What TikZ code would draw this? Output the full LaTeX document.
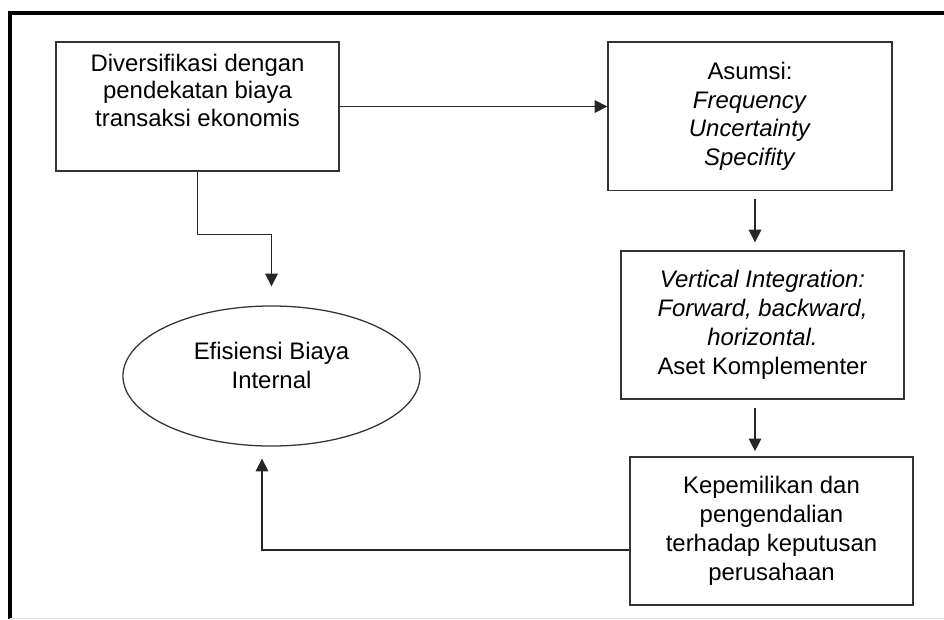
\documentclass[tikz,border=0pt]{standalone}
\usepackage{fontspec}
\setmainfont{Liberation Sans}
\usetikzlibrary{shapes.geometric, arrows.meta, calc}
\begin{document}
\begin{tikzpicture}[x=0.025cm, y=-0.025cm, line width=0.9pt,
    font=\fontsize{17}{20.5}\selectfont,
    kotak/.style={draw=black!80, rectangle, align=center, inner sep=0pt},
    panah/.style={-{Triangle[length=9pt, width=9pt]}, draw=black!85}]
  \useasboundingbox (0,0) rectangle (944,619);
  \draw[line width=2.2pt] (944,13) -- (10,13) -- (10,619);
  \draw[gray!20, line width=0.6pt] (10,618) -- (944,618);

  \node[kotak, minimum width=7.075cm, minimum height=3.225cm,
        font=\fontsize{17}{19.6}\selectfont, text depth=0.825cm]
    (div) at (197.5,106.5) {Diversifikasi dengan\\ pendekatan biaya\\ transaksi ekonomis};
  \node[kotak, minimum width=7.1cm, minimum height=3.72cm]
    (as) at (750,116.3) {Asumsi:\\ \textit{Frequency}\\ \textit{Uncertainty}\\ \textit{Specifity}};
  \node[kotak, minimum width=7.075cm, minimum height=3.7cm]
    (vi) at (762.5,325) {\textit{Vertical Integration:}\\ \textit{Forward, backward,}\\ \textit{horizontal.}\\ Aset Komplementer};
  \node[kotak, minimum width=7.075cm, minimum height=3.7cm]
    (kp) at (771.5,531) {Kepemilikan dan\\ pengendalian\\ terhadap keputusan\\ perusahaan};
  \node[draw=black!80, ellipse, inner sep=0pt, minimum width=7.425cm, minimum height=3.5cm,
        align=center, text depth=0.55cm]
    (eff) at (271.5,376) {Efisiensi Biaya\\ Internal};

  \coordinate (kol) at (755,0);
  \coordinate (kiri) at (262,0);

  \draw[panah] (div.east) -- (div.east -| as.west);
  \draw[panah, shorten >=0.475cm] (div.south) -- ++(0,63) -| (eff.north);
  \draw[panah, shorten <=0.2cm, shorten >=0.2cm] (as.south -| kol) -- (vi.north -| kol);
  \draw[panah, shorten <=0.22cm, shorten >=0.13cm] (vi.south -| kol) -- (kp.north -| kol);
  \draw[panah, shorten >=0.3cm] ($(kp.west)+(0,19)$) -| (eff.south -| kiri);
\end{tikzpicture}
\end{document}
